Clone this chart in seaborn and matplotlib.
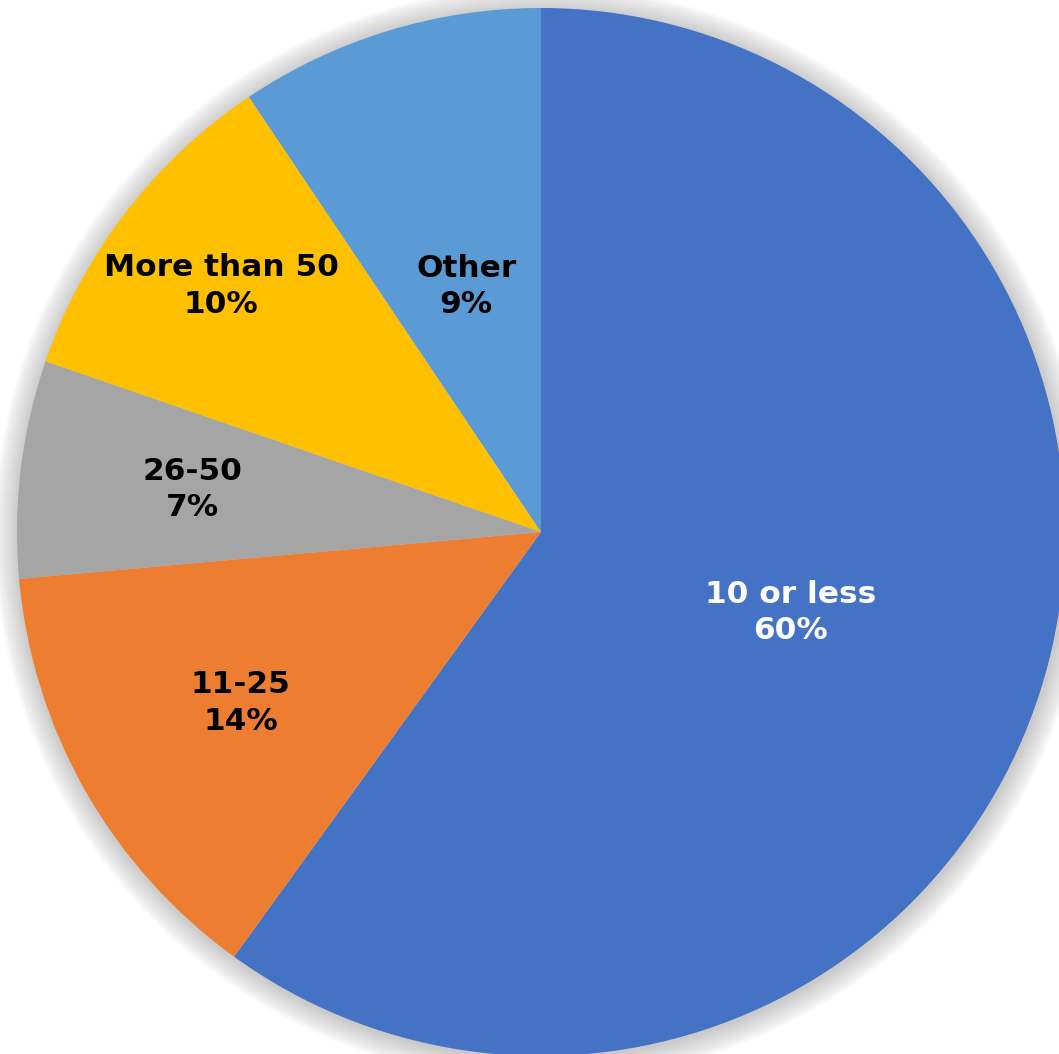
import matplotlib
matplotlib.use("Agg")
import matplotlib.pyplot as plt
from matplotlib.patches import Circle
import numpy as np
import seaborn as sns

categories = ["10 or less", "11-25", "26-50", "More than 50", "Other"]
values = [59.9, 13.6, 6.7, 10.3, 9.4]
colors = ["#4472C4", "#ED7D31", "#A5A5A5", "#FFC000", "#5B9BD5"]
text_colors = ["white", "black", "black", "black", "black"]
label_dist = [0.50, 0.66, 0.67, 0.77, 0.49]

sns.set_theme(style="white")
plt.rcParams['font.family'] = ['DejaVu Sans']

W, H = 1059, 1054
fig = plt.figure(figsize=(W / 100, H / 100), dpi=100)
ax = fig.add_axes([0, 0, 1, 1])

cx, cy, R = 541, H - 532, 524

# soft shadow
for i in range(24):
    ax.add_patch(Circle((cx + 1, cy - 2), R + 1 + i * 1.0, color="#8a8a8a",
                        alpha=0.018, lw=0, zorder=0))

wedges, _ = ax.pie(values, colors=colors, startangle=90, counterclock=False,
                   center=(cx, cy), radius=R, frame=True,
                   wedgeprops=dict(linewidth=0))
ax.set_xlim(0, W)
ax.set_ylim(0, H)
ax.set_aspect('equal')
ax.axis('off')

for w, cat, v, tc, d in zip(wedges, categories, values, text_colors, label_dist):
    ang = np.deg2rad((w.theta1 + w.theta2) / 2)
    x = cx + d * R * np.cos(ang)
    y = cy + d * R * np.sin(ang)
    ax.text(x, y, f"{cat}\n{round(v)}%", ha="center", va="center",
            color=tc, fontsize=22.5, fontweight="bold", linespacing=1.32)

fig.savefig("out.png", dpi=100)
